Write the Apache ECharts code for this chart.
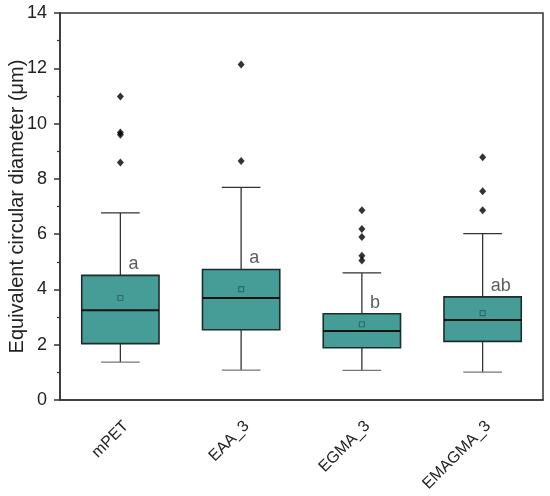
<!DOCTYPE html>
<html>
<head>
<meta charset="utf-8">
<style>
  html, body { margin: 0; padding: 0; background: #fff; }
  #chart { width: 550px; height: 496px; }
</style>
<script src="https://cdn.jsdelivr.net/npm/echarts@6/dist/echarts.min.js"></script>
</head>
<body>
<div id="chart"></div>
<script>
var categories = ['mPET', 'EAA_3', 'EGMA_3', 'EMAGMA_3'];
// [min, Q1, median, Q3, max] (whisker ends)
var boxValues = [
    [1.37, 2.04, 3.25, 4.51, 6.77],
    [1.08, 2.54, 3.69, 4.72, 7.69],
    [1.07, 1.89, 2.50, 3.12, 4.60],
    [1.01, 2.12, 2.89, 3.73, 6.02]
];
var meanValues = [3.69, 4.01, 2.74, 3.14];
var outliers = [
    [0, 10.98], [0, 9.68], [0, 9.60], [0, 8.59],
    [1, 12.14], [1, 8.65],
    [2, 6.86], [2, 6.19], [2, 5.90], [2, 5.22], [2, 5.05],
    [3, 8.78], [3, 7.55], [3, 6.86]
];
var letters = ['a', 'a', 'b', 'ab'];
var yTicks = [0, 2, 4, 6, 8, 10, 12, 14];

var font = 'Liberation Sans, Arial, sans-serif';
var axisColor = '#333';

var boxData = boxValues.map(function (b, i) {
    return [i].concat(b);
});
var meanData = meanValues.map(function (v, i) {
    return [i, v];
});
var letterData = boxValues.map(function (b, i) {
    return [i, b[3]];
});

function renderBox(params, api) {
    var idx = api.value(0);
    var pMin = api.coord([idx, api.value(1)]);
    var pQ1 = api.coord([idx, api.value(2)]);
    var pMed = api.coord([idx, api.value(3)]);
    var pQ3 = api.coord([idx, api.value(4)]);
    var pMax = api.coord([idx, api.value(5)]);
    var w = api.size([1, 0])[0] * 0.64;
    var cap = w / 2;
    var x = pMed[0];
    var whisker = {stroke: '#333', lineWidth: 1.3};
    return {
        type: 'group',
        children: [
            {type: 'line', shape: {x1: x, y1: pQ3[1], x2: x, y2: pMax[1]}, style: whisker},
            {type: 'line', shape: {x1: x, y1: pQ1[1], x2: x, y2: pMin[1]}, style: whisker},
            {type: 'line', shape: {x1: x - cap / 2, y1: pMax[1], x2: x + cap / 2, y2: pMax[1]}, style: whisker},
            {type: 'line', shape: {x1: x - cap / 2, y1: pMin[1], x2: x + cap / 2, y2: pMin[1]}, style: {stroke: '#777', lineWidth: 1.3}},
            {
                type: 'rect',
                shape: {x: x - w / 2, y: pQ3[1], width: w, height: pQ1[1] - pQ3[1]},
                style: {fill: '#469d98', stroke: '#1d2d2d', lineWidth: 1.6}
            },
            {type: 'line', shape: {x1: x - w / 2, y1: pMed[1], x2: x + w / 2, y2: pMed[1]}, style: {stroke: '#111', lineWidth: 2}}
        ]
    };
}

var chart = echarts.init(document.getElementById('chart'));

var option = {
    animation: false,
    backgroundColor: '#fff',
    grid: {
        left: 60,
        top: 13,
        right: 7,
        bottom: 96,
        containLabel: false,
        outerBoundsMode: 'none',
        show: true,
        borderColor: axisColor,
        borderWidth: 1.5,
        backgroundColor: 'transparent'
    },
    xAxis: {
        type: 'category',
        data: categories,
        boundaryGap: true,
        axisLine: {lineStyle: {color: axisColor, width: 1.5}},
        axisTick: {alignWithLabel: true, length: 6, lineStyle: {color: axisColor, width: 1.5}},
        axisLabel: {
            rotate: 45,
            margin: 18,
            align: 'right',
            verticalAlign: 'top',
            color: '#222',
            fontFamily: font,
            fontSize: 16
        },
        splitLine: {show: false}
    },
    yAxis: {
        type: 'value',
        min: 0,
        max: 14,
        interval: 2,
        name: 'Equivalent circular diameter (μm)',
        nameLocation: 'middle',
        nameGap: 33,
        nameMoveOverlap: false,
        nameTextStyle: {color: '#222', fontFamily: font, fontSize: 20},
        axisLine: {show: true, lineStyle: {color: axisColor, width: 1.5}},
        axisTick: {show: true, length: 6, lineStyle: {color: axisColor, width: 1.5}},
        minorTick: {show: true, splitNumber: 2, length: 3, lineStyle: {color: axisColor, width: 1.2}},
        axisLabel: {
            margin: 13,
            color: '#222',
            fontFamily: font,
            fontSize: 18,
            formatter: function (v) {
                return yTicks.indexOf(v) >= 0 ? String(v) : '';
            }
        },
        splitLine: {show: false}
    },
    series: [
        {
            name: 'box',
            type: 'custom',
            renderItem: renderBox,
            encode: {x: 0, y: [1, 2, 3, 4, 5]},
            data: boxData,
            z: 2
        },
        {
            name: 'mean',
            type: 'scatter',
            symbol: 'rect',
            symbolSize: 5,
            itemStyle: {color: 'transparent', borderColor: '#25625f', borderWidth: 1.2},
            data: meanData,
            z: 3
        },
        {
            name: 'outliers',
            type: 'scatter',
            symbol: 'diamond',
            symbolSize: [7, 8],
            itemStyle: {color: '#000'},
            data: outliers,
            z: 3
        },
        {
            name: 'letters',
            type: 'scatter',
            symbolSize: 0,
            silent: true,
            data: letterData,
            label: {
                show: true,
                position: 'right',
                distance: 8,
                offset: [0, -11],
                color: '#333',
                fontFamily: font,
                fontSize: 18,
                formatter: function (p) {
                    return letters[p.dataIndex];
                }
            },
            z: 4
        }
    ]
};

chart.setOption(option);
</script>
</body>
</html>
